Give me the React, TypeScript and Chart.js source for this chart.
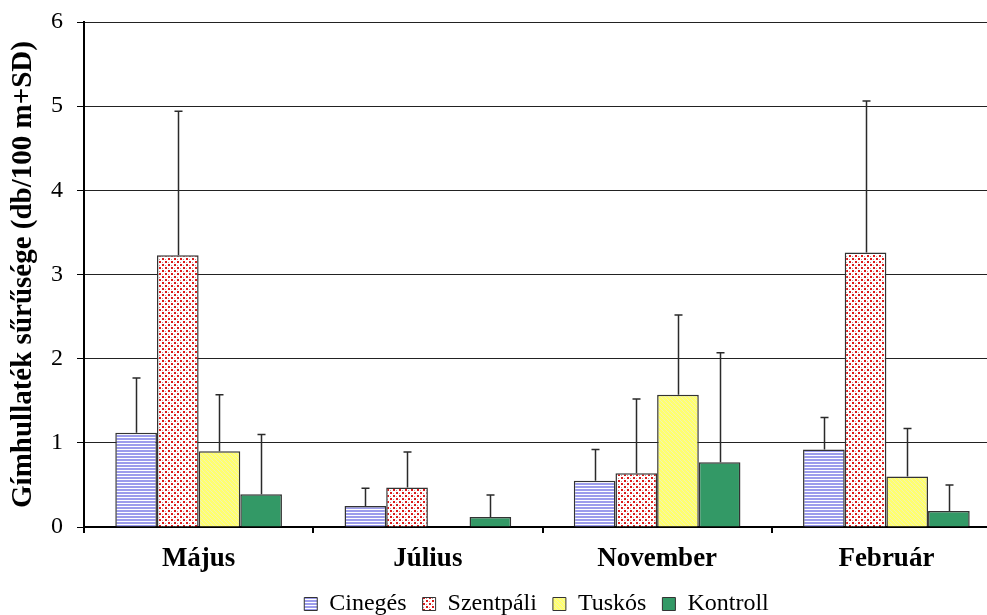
import { useEffect, useRef } from 'react';
import { Chart, registerables } from 'chart.js';

Chart.register(...registerables);

const categories = ['Május', 'Július', 'November', 'Február'];
const seriesNames = ['Cinegés', 'Szentpáli', 'Tuskós', 'Kontroll'];
const cinegesValues = [1.12, 0.25, 0.55, 0.92];
const cinegesSD = [0.65, 0.21, 0.37, 0.38];
const szentpaliValues = [3.23, 0.47, 0.64, 3.26];
const szentpaliSD = [1.71, 0.42, 0.88, 1.8];
const tuskosValues = [0.9, null, 1.57, 0.6];
const tuskosSD = [0.67, null, 0.95, 0.57];
const kontrollValues = [0.39, 0.12, 0.77, 0.19];
const kontrollSD = [0.71, 0.26, 1.3, 0.31];
const yTicks = [0, 1, 2, 3, 4, 5, 6];

const allValues = [cinegesValues, szentpaliValues, tuskosValues, kontrollValues];
const allSD = [cinegesSD, szentpaliSD, tuskosSD, kontrollSD];

const FONT = "'Liberation Serif', 'Times New Roman', serif";

function makePattern(w: number, h: number, draw: (ctx: CanvasRenderingContext2D) => void) {
  const c = document.createElement('canvas');
  c.width = w;
  c.height = h;
  const ctx = c.getContext('2d')!;
  draw(ctx);
  return ctx.createPattern(c, 'repeat') as CanvasPattern;
}

const errorBarPlugin = {
  id: 'errorBars',
  afterDatasetsDraw(chart: any) {
    const ctx = chart.ctx;
    const yScale = chart.scales.y;
    ctx.save();
    ctx.strokeStyle = '#2a2a2a';
    ctx.lineWidth = 1.5;
    chart.data.datasets.forEach((ds: any, i: number) => {
      const meta = chart.getDatasetMeta(i);
      const sds = allSD[i];
      meta.data.forEach((bar: any, j: number) => {
        const v = ds.data[j];
        const sd = sds[j];
        if (v == null || sd == null) return;
        const x = Math.round(bar.x) + 0.5;
        const yTop = yScale.getPixelForValue(v + sd);
        const yBase = yScale.getPixelForValue(v);
        ctx.beginPath();
        ctx.moveTo(x, yBase);
        ctx.lineTo(x, yTop);
        ctx.moveTo(x - 4, yTop);
        ctx.lineTo(x + 4, yTop);
        ctx.stroke();
      });
    });
    ctx.restore();
  },
};

export default function App() {
  const canvasRef = useRef<HTMLCanvasElement | null>(null);

  useEffect(() => {
    if (!canvasRef.current) return;

    const stripes = makePattern(4, 3, (ctx) => {
      ctx.fillStyle = '#ffffff';
      ctx.fillRect(0, 0, 4, 3);
      ctx.fillStyle = '#9c9cec';
      ctx.fillRect(0, 0, 4, 2);
    });
    const dots = makePattern(6, 6, (ctx) => {
      ctx.fillStyle = '#ffffff';
      ctx.fillRect(0, 0, 6, 6);
      ctx.fillStyle = '#dd1a1a';
      ctx.fillRect(0, 0, 2, 2);
      ctx.fillRect(3, 3, 2, 2);
      ctx.fillStyle = '#c89090';
      ctx.fillRect(3, 1, 1, 1);
      ctx.fillRect(0, 4, 1, 1);
    });
    const diag = makePattern(4, 4, (ctx) => {
      ctx.fillStyle = '#ffff6e';
      ctx.fillRect(0, 0, 4, 4);
      ctx.fillStyle = '#f2f2b4';
      for (let k = 0; k < 4; k++) ctx.fillRect(k, k, 1, 1);
    });
    const fills: any[] = [stripes, dots, diag, '#339966'];

    const chart = new Chart(canvasRef.current, {
      type: 'bar',
      data: {
        labels: categories,
        datasets: seriesNames.map((name, i) => ({
          label: name,
          data: allValues[i] as any,
          backgroundColor: fills[i],
          borderColor: '#333333',
          borderWidth: 1.5,
          borderSkipped: 'bottom',
          categoryPercentage: 0.727,
          barPercentage: 1.0,
        })),
      },
      options: {
        animation: false,
        responsive: true,
        maintainAspectRatio: false,
        layout: { padding: { top: 22, right: 9, left: 0, bottom: 0 } },
        plugins: {
          tooltip: { enabled: false },
          legend: {
            position: 'bottom',
            fullSize: false,
            labels: {
              boxWidth: 13,
              boxHeight: 13,
              padding: 4,
              color: '#000',
              font: { family: FONT, size: 24 },
              generateLabels: (ch: any) => {
                const items = (Chart.defaults.plugins.legend.labels as any).generateLabels(ch);
                return items.map((it: any) => ({
                  ...it,
                  text: it.text + '  ',
                  lineWidth: 1,
                  strokeStyle: '#333333',
                }));
              },
            },
          },
        },
        scales: {
          x: {
            offset: true,
            grid: {
              offset: true,
              drawOnChartArea: false,
              drawTicks: true,
              tickLength: 6,
              color: '#000',
              tickColor: '#000',
              lineWidth: 2,
            },
            border: { display: true, color: '#000', width: 2 },
            ticks: {
              color: '#000',
              padding: 10,
              font: { family: FONT, size: 27, weight: 'bold' },
            },
            afterFit: (scale: any) => {
              scale.height = 61;
            },
          },
          y: {
            min: 0,
            max: 6,
            afterBuildTicks: (scale: any) => {
              scale.ticks = yTicks.map((v) => ({ value: v }));
            },
            grid: {
              color: '#222222',
              lineWidth: 1,
              tickLength: 7,
              tickColor: '#000',
              drawTicks: true,
            },
            border: { display: true, color: '#000', width: 2 },
            ticks: {
              color: '#000',
              padding: 14,
              font: { family: FONT, size: 24 },
            },
            title: {
              display: true,
              text: 'Gímhullaték sűrűsége (db/100 m+SD)',
              color: '#000',
              padding: { top: 6, bottom: 0 },
              font: { family: FONT, size: 29, weight: 'bold' },
            },
            afterFit: (scale: any) => {
              scale.width = 84;
              scale.paddingTop = 0;
              scale.paddingBottom = 0;
            },
          },
        },
      },
      plugins: [errorBarPlugin],
    });

    return () => chart.destroy();
  }, []);

  return (
    <div
      style={{
        position: 'fixed',
        left: 0,
        top: 0,
        width: 987,
        height: 615,
        overflow: 'hidden',
        background: '#fff',
      }}
    >
      <div style={{ position: 'absolute', left: 0, top: 0, width: 1010, height: 626 }}>
        <canvas ref={canvasRef} />
      </div>
    </div>
  );
}
